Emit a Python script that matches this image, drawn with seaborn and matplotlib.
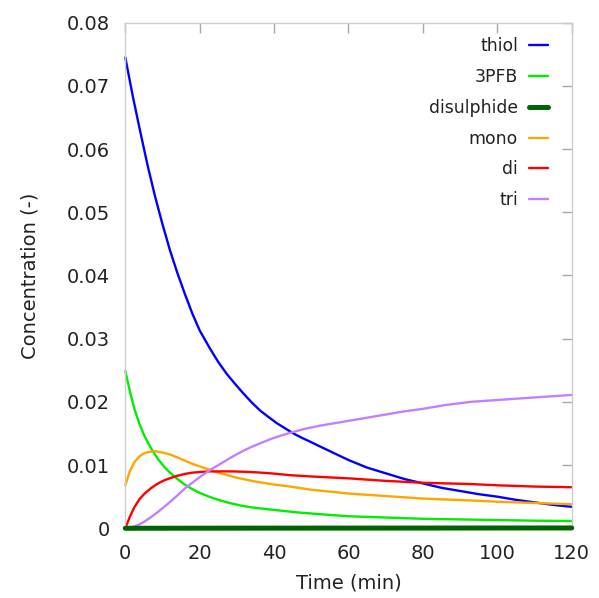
import matplotlib
matplotlib.use("Agg")
import matplotlib.pyplot as plt
from matplotlib.lines import Line2D
import seaborn as sns
import pandas as pd

# ---- data ----
series_names = ["thiol", "3PFB", "disulphide", "mono", "di", "tri"]
series_colors = ["#0000ff", "#00ee00", "#006400", "#ffa500", "#ff0000", "#c080ff"]

t_thiol = [0, 2, 4, 6, 8, 10, 12, 14, 16, 18, 20, 22.8, 25, 27.3, 30, 31.8, 34, 36.3, 38.5, 40.8,
           43, 45.2, 47.5, 49.7, 52.5, 55, 57.5, 60, 65, 70, 75, 80, 85, 90, 95, 100, 105, 110, 115, 120]
v_thiol = [0.0745, 0.0684, 0.0628, 0.0574, 0.0525, 0.0481, 0.0440, 0.0404, 0.0371, 0.0340,
           0.0313, 0.0284, 0.0263, 0.0244, 0.0225, 0.0213, 0.0199, 0.0186, 0.0176, 0.0166,
           0.0158, 0.0150, 0.0143, 0.0137, 0.0129, 0.0122, 0.0115, 0.0108, 0.0096, 0.0087,
           0.0078, 0.0071, 0.0064, 0.0059, 0.0054, 0.0050, 0.0045, 0.0041, 0.0037, 0.0034]

t_3pfb = [0, 1.3, 2.5, 3.8, 5, 6.3, 7.5, 9, 10.5, 12, 14, 16, 18, 20, 22.5, 25, 28, 31, 34, 40,
          46.5, 53, 60, 70, 80, 90, 100, 110, 120]
v_3pfb = [0.0249, 0.0215, 0.0188, 0.0165, 0.0148, 0.0133, 0.0121, 0.0108, 0.0097, 0.0088,
          0.0078, 0.0069, 0.0062, 0.0056, 0.0050, 0.0045, 0.0040, 0.0036, 0.0033, 0.0029,
          0.0025, 0.0022, 0.0019, 0.0017, 0.0015, 0.0014, 0.0013, 0.0012, 0.00115]

t_disulphide = [0, 30, 60, 90, 120]
v_disulphide = [0.0, 0.00002, 0.00003, 0.00004, 0.00005]

t_mono = [0, 1.2, 2.5, 3.8, 5.2, 6.5, 7.9, 10, 12.4, 14, 16, 18, 20, 22.5, 25, 30, 34, 39, 44.3,
          50, 55, 60, 70, 80, 92.8, 100, 110, 120]
v_mono = [0.0068, 0.0090, 0.0105, 0.0114, 0.0119, 0.0121, 0.0122, 0.0120, 0.0116, 0.0112,
          0.0107, 0.0102, 0.0098, 0.0093, 0.0088, 0.0080, 0.0075, 0.0070, 0.0066,
          0.0061, 0.0058, 0.0055, 0.0051, 0.0047, 0.0044, 0.0042, 0.0040, 0.0038]

t_di = [0, 1.2, 2.5, 3.8, 5.2, 7, 8.8, 10.5, 12.4, 14, 16, 18, 20, 22.5, 25, 29, 34, 39, 44.3,
        50, 60, 70, 80, 92.8, 100, 110, 120]
v_di = [0.0, 0.0018, 0.0034, 0.0046, 0.0055, 0.0064, 0.0071, 0.0076, 0.0080, 0.0083, 0.0086,
        0.0088, 0.0089, 0.0090, 0.0090, 0.0090, 0.0089, 0.0087, 0.0084, 0.0082, 0.0079,
        0.0075, 0.0072, 0.0070, 0.0068, 0.0066, 0.0065]

t_tri = [0, 1.5, 3.4, 5, 7, 9, 11.5, 14, 16, 18, 20, 22.5, 25, 29, 31.5, 34, 36.5, 39, 41.5,
         44.3, 48, 52, 56, 60, 65, 70, 75, 80, 86, 92.8, 100, 110, 120]
v_tri = [0.0, 0.0001, 0.0005, 0.0010, 0.0018, 0.0027, 0.0039, 0.0052, 0.0063, 0.0072, 0.0081,
         0.0091, 0.0100, 0.0114, 0.0122, 0.0129, 0.0135, 0.0141, 0.0146, 0.0151, 0.0157,
         0.0162, 0.0166, 0.0170, 0.0175, 0.0180, 0.0185, 0.0189, 0.0195, 0.0200, 0.0203,
         0.0207, 0.0211]

x_ticks = [0, 20, 40, 60, 80, 100, 120]
y_ticks = [0, 0.01, 0.02, 0.03, 0.04, 0.05, 0.06, 0.07, 0.08]
y_tick_labels = ["0", "0.01", "0.02", "0.03", "0.04", "0.05", "0.06", "0.07", "0.08"]

series_t = [t_thiol, t_3pfb, t_disulphide, t_mono, t_di, t_tri]
series_v = [v_thiol, v_3pfb, v_disulphide, v_mono, v_di, v_tri]

rows = []
for name, ts, vs in zip(series_names, series_t, series_v):
    for t, v in zip(ts, vs):
        rows.append({"Time": t, "Concentration": v, "species": name})
df = pd.DataFrame(rows)

# ---- plotting ----
sns.set_style("white")
plt.rcParams["font.family"] = ["DejaVu Sans"]

fig = plt.figure(figsize=(5.99, 5.98), dpi=100)
ax = fig.add_axes([0.2092, 0.1166, 0.9544 - 0.2092, 0.962 - 0.1166])

LW = 1.7
LW_THICK = 3.6
palette = dict(zip(series_names, series_colors))
sns.lineplot(data=df, x="Time", y="Concentration", hue="species", hue_order=series_names,
             palette=palette, ax=ax, linewidth=LW, sort=True, estimator=None, legend=False)
for line, name in zip(ax.get_lines(), series_names):
    line.set_solid_joinstyle("round")
    line.set_clip_on(False)
    if name == "disulphide":
        line.set_linewidth(LW_THICK)
        line.set_zorder(5)

ax.set_xlim(0, 120)
ax.set_ylim(0, 0.08)
ax.set_xticks(x_ticks)
ax.set_yticks(y_ticks)
ax.set_yticklabels(y_tick_labels)
ax.set_xlabel("Time (min)", fontsize=14, color="#222222", labelpad=8)
ax.set_ylabel("Concentration (-)", fontsize=14, color="#222222", labelpad=20)

ax.tick_params(axis="both", which="both", direction="in", length=7, width=1, color="#a8a8a8",
               top=True, right=True, labelsize=14, labelcolor="#222222", pad=11)
for sp in ax.spines.values():
    sp.set_color("#cccccc")
    sp.set_linewidth(1)
    sp.set_visible(True)

handles = [Line2D([0], [0], color=c, lw=(LW_THICK if n == "disulphide" else LW))
           for n, c in zip(series_names, series_colors)]
leg = ax.legend(handles, series_names, loc="upper right", frameon=False, markerfirst=False,
                fontsize=12.4, handlelength=1.1, labelspacing=0.74, handletextpad=0.65,
                borderpad=0, borderaxespad=0, bbox_to_anchor=(0.947, 0.971))
for txt in leg.get_texts():
    txt.set_color("#222222")

fig.savefig("out.png", dpi=100)
